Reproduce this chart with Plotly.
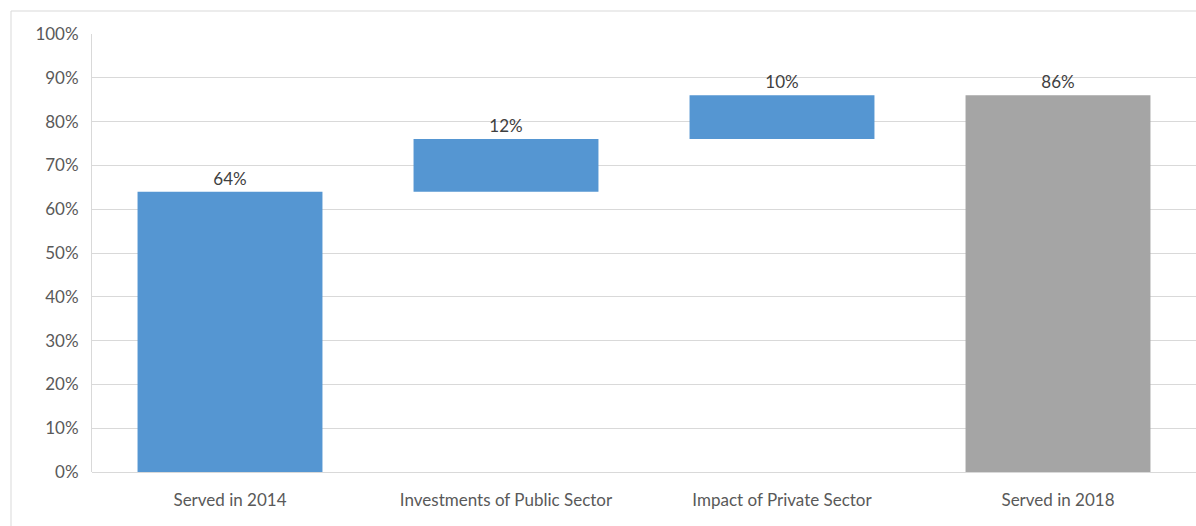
import numpy as np
import plotly.graph_objects as go

categories = ["Served in 2014", "Investments of Public Sector", "Impact of Private Sector", "Served in 2018"]
changes = [64, 12, 10, 86]
kinds = ["absolute", "relative", "relative", "total"]
y_ticks = [0, 10, 20, 30, 40, 50, 60, 70, 80, 90, 100]
y_tick_labels = [f"{v}%" for v in y_ticks]

# compute bases from cumulative running total
bases = []
heights = []
running = 0
for v, k in zip(changes, kinds):
    if k == "absolute":
        bases.append(0); heights.append(v); running = v
    elif k == "relative":
        bases.append(running); heights.append(v); running += v
    else:
        bases.append(0); heights.append(running)

colors = ["#5596D2" if k != "total" else "#A5A5A5" for k in kinds]
labels = [f"{v}%" for v in changes]

fig = go.Figure()
fig.add_trace(go.Bar(
    x=categories, y=heights, base=bases,
    marker=dict(color=colors, line=dict(width=0)),
    width=0.67,
    text=labels, textposition="outside",
    textfont=dict(family="Lato", size=17, color="#404040"),
    cliponaxis=False,
    hoverinfo="skip",
))

W, H = 1196, 526
ml, mr, mt, mb = 92, 0, 34, 54
fig.update_layout(
    width=W, height=H,
    margin=dict(l=ml, r=mr, t=mt, b=mb, pad=0),
    paper_bgcolor="white", plot_bgcolor="white",
    font=dict(family="Lato", size=17, color="#595959"),
    showlegend=False,
    bargap=0.33,
)
fig.update_xaxes(
    range=[-0.5, 3.5],
    showgrid=False, showline=False, zeroline=False,
    ticks="outside", ticklen=13, tickcolor="rgba(0,0,0,0)",
    tickfont=dict(family="Lato", size=17, color="#595959"),
    fixedrange=True,
)
fig.update_yaxes(
    range=[0, 100],
    tickvals=y_ticks, ticktext=y_tick_labels,
    showgrid=True, gridcolor="#D9D9D9", gridwidth=1,
    zeroline=True, zerolinecolor="#D9D9D9", zerolinewidth=1,
    showline=True, linecolor="#D9D9D9", linewidth=1,
    ticks="outside", ticklen=9, tickcolor="rgba(0,0,0,0)",
    tickfont=dict(family="Lato", size=17, color="#595959"),
    fixedrange=True,
)

# outer chart-area border (light gray), extends beyond the window on right/bottom
pw = W - ml - mr
ph = H - mt - mb
fig.add_shape(type="rect", xref="paper", yref="paper",
              x0=(11 - ml) / pw, x1=(W + 20 - ml) / pw,
              y0=-(H + 20 - mt - ph) / ph, y1=1 + (mt - 11) / ph,
              line=dict(color="#D9D9D9", width=1), fillcolor="rgba(0,0,0,0)", layer="below")

fig.write_html("out.html")
